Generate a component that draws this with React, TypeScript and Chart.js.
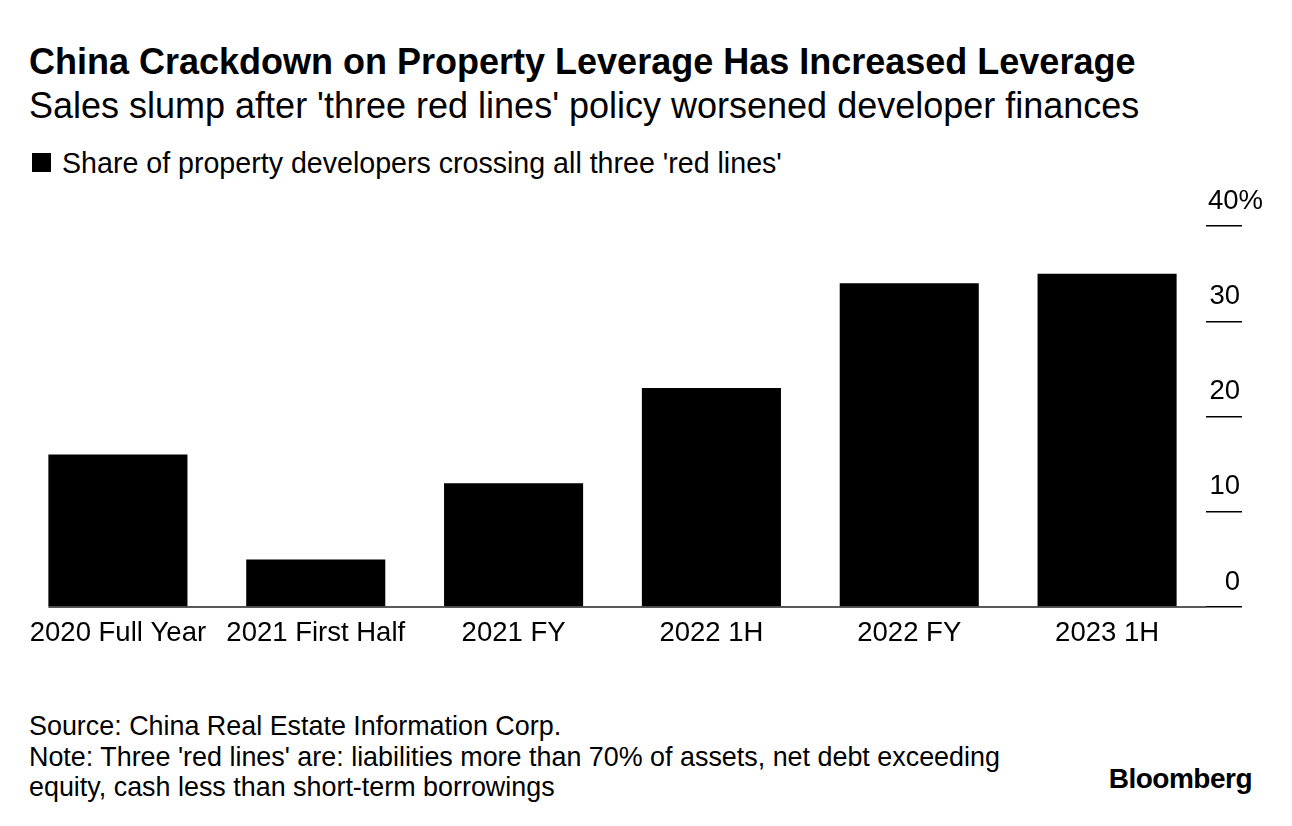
import React, { useEffect, useRef } from "react";
import { Chart, registerables } from "chart.js";

Chart.register(...registerables);

const title = "China Crackdown on Property Leverage Has Increased Leverage";
const subtitle = "Sales slump after 'three red lines' policy worsened developer finances";
const seriesName = "Share of property developers crossing all three 'red lines'";
const categories = ["2020 Full Year", "2021 First Half", "2021 FY", "2022 1H", "2022 FY", "2023 1H"];
const shareValues = [16, 5, 13, 23, 34, 35];
const yTicks = [0, 10, 20, 30, 40];
const sourceText = "Source: China Real Estate Information Corp.";
const noteLines = [
  "Note: Three 'red lines' are: liabilities more than 70% of assets, net debt exceeding",
  "equity, cash less than short-term borrowings",
];

const FONT = "'Liberation Sans', Arial, Helvetica, sans-serif";

const baselinePlugin = {
  id: "baselinePlugin",
  afterDatasetsDraw(chart: any) {
    const meta = chart.getDatasetMeta(0);
    const first = meta.data[0];
    if (!first) return;
    const y = chart.scales.y.getPixelForValue(0);
    const left = first.x - first.width / 2;
    const ctx = chart.ctx;
    ctx.save();
    ctx.strokeStyle = "#222";
    ctx.lineWidth = 1.5;
    ctx.beginPath();
    ctx.moveTo(left, y);
    ctx.lineTo(chart.chartArea.right, y);
    ctx.stroke();
    ctx.restore();
  },
};

export default function App() {
  const ref = useRef<HTMLCanvasElement>(null);

  useEffect(() => {
    if (!ref.current) return;
    Chart.defaults.font.family = FONT;
    Chart.defaults.color = "#000";
    const chart = new Chart(ref.current, {
      type: "bar",
      data: {
        labels: categories,
        datasets: [
          {
            label: seriesName,
            data: shareValues,
            backgroundColor: "#000",
            borderWidth: 0,
            barPercentage: 0.703,
            categoryPercentage: 1,
          },
        ],
      },
      options: {
        animation: false,
        responsive: false,
        maintainAspectRatio: false,
        layout: { padding: { top: 46, left: 19, right: 29, bottom: 0 } },
        plugins: { legend: { display: false }, tooltip: { enabled: false } },
        scales: {
          x: {
            grid: { display: false, drawTicks: false },
            border: { display: false },
            ticks: {
              font: { size: 27.5, family: FONT },
              color: "#000",
              padding: 10,
              maxRotation: 0,
              autoSkip: false,
            },
          },
          y: {
            position: "right",
            min: 0,
            max: 40,
            afterBuildTicks: (scale: any) => {
              scale.ticks = yTicks.map((v) => ({ value: v }));
            },
            afterFit: (scale: any) => {
              scale.width = 57;
            },
            grid: {
              display: true,
              drawOnChartArea: false,
              drawTicks: true,
              tickLength: 36,
              tickColor: "#000",
              lineWidth: 1.5,
            },
            border: { display: false },
            ticks: {
              font: { size: 27.5, family: FONT },
              color: "#000",
              crossAlign: "far",
              padding: 0,
              labelOffset: -25,
              callback: (v: any) => (v === 40 ? "40%" : String(v) + "\u2007\u2008"),
            },
          },
        },
      },
      plugins: [baselinePlugin],
    } as any);
    return () => chart.destroy();
  }, []);

  const textBase: React.CSSProperties = {
    position: "absolute",
    fontFamily: FONT,
    color: "#000",
    whiteSpace: "nowrap",
    margin: 0,
  };

  return (
    <div style={{ position: "absolute", left: 0, top: 0, width: 1292, height: 826, background: "#fff", overflow: "hidden" }}>
      <div style={{ ...textBase, left: 29, top: 44, fontSize: 36, lineHeight: "36px", fontWeight: 700 }}>{title}</div>
      <div style={{ ...textBase, left: 29, top: 88, fontSize: 36, lineHeight: "36px" }}>{subtitle}</div>
      <div style={{ position: "absolute", left: 32, top: 153, width: 19, height: 19, background: "#000" }} />
      <div style={{ ...textBase, left: 62, top: 149, fontSize: 28.6, lineHeight: "28.6px" }}>{seriesName}</div>
      <canvas ref={ref} width={1292} height={480} style={{ position: "absolute", left: 0, top: 180, width: 1292, height: 480 }} />
      <div style={{ ...textBase, left: 29, top: 711, fontSize: 26.9, lineHeight: "30.5px" }}>
        <div>{sourceText}</div>
        {noteLines.map((l, i) => (
          <div key={i}>{l}</div>
        ))}
      </div>
      <div style={{ ...textBase, right: 40, top: 765, fontSize: 28, lineHeight: "28px", fontWeight: 700, letterSpacing: -0.5 }}>Bloomberg</div>
    </div>
  );
}
